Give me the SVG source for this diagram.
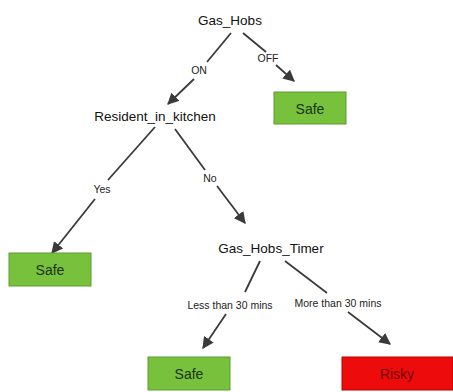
<svg xmlns="http://www.w3.org/2000/svg" width="453" height="392" viewBox="0 0 453 392">
  <defs>
    <marker id="arrow" viewBox="0 0 10 10" refX="9" refY="5" markerWidth="6.5" markerHeight="6.5" orient="auto" markerUnits="strokeWidth">
      <path d="M0,0 L10,5 L0,10 Z" fill="#3a3a3a"/>
    </marker>
  </defs>
  <style>
    .node-label { font-family: "Liberation Sans", Arial, sans-serif; font-size: 13.5px; fill: #111; text-anchor: middle; }
    .edge-label { font-family: "Liberation Sans", Arial, sans-serif; font-size: 10.5px; fill: #222; text-anchor: middle; }
    .edge { stroke: #3a3a3a; stroke-width: 1.8; fill: none; }
    .safe rect { fill: #78c13c; stroke: #5e9b2e; stroke-width: 1; }
    .safe text { font-family: "Liberation Sans", Arial, sans-serif; font-size: 14px; fill: #1a3310; text-anchor: middle; }
    .risky rect { fill: #ee0b0b; stroke: #b30000; stroke-width: 1; }
    .risky text { font-family: "Liberation Sans", Arial, sans-serif; font-size: 14px; fill: #6e0a0a; text-anchor: middle; }
  </style>
  <rect width="453" height="392" fill="#ffffff"/>

  <!-- connectors -->
  <g id="connectors">
    <line class="edge" x1="231" y1="33" x2="207" y2="62"/>
    <line class="edge" x1="194" y1="79" x2="168" y2="104" marker-end="url(#arrow)"/>
    <text class="edge-label" x="199" y="74">ON</text>

    <line class="edge" x1="243" y1="33" x2="266" y2="52"/>
    <line class="edge" x1="276" y1="65" x2="294" y2="81" marker-end="url(#arrow)"/>
    <text class="edge-label" x="268" y="62">OFF</text>

    <line class="edge" x1="155" y1="127" x2="108" y2="180"/>
    <line class="edge" x1="95" y1="199" x2="52" y2="253" marker-end="url(#arrow)"/>
    <text class="edge-label" x="102" y="193">Yes</text>

    <line class="edge" x1="175" y1="129" x2="205" y2="170"/>
    <line class="edge" x1="217" y1="186" x2="245" y2="223" marker-end="url(#arrow)"/>
    <text class="edge-label" x="210" y="182">No</text>

    <line class="edge" x1="260" y1="261" x2="245" y2="292"/>
    <line class="edge" x1="226" y1="314" x2="203" y2="348" marker-end="url(#arrow)"/>
    <text class="edge-label" x="230" y="309">Less than 30 mins</text>

    <line class="edge" x1="285" y1="261" x2="327" y2="293"/>
    <line class="edge" x1="348" y1="312" x2="390" y2="344" marker-end="url(#arrow)"/>
    <text class="edge-label" x="338" y="307">More than 30 mins</text>
  </g>

  <!-- decision nodes -->
  <g id="gas-hobs">
    <text class="node-label" x="230" y="25">Gas_Hobs</text>
  </g>
  <g id="resident-in-kitchen">
    <text class="node-label" x="155" y="121">Resident_in_kitchen</text>
  </g>
  <g id="gas-hobs-timer">
    <text class="node-label" x="271" y="253">Gas_Hobs_Timer</text>
  </g>

  <!-- outcome nodes -->
  <g id="safe-off" class="safe">
    <rect x="274" y="92" width="72" height="32"/>
    <text x="310" y="114">Safe</text>
  </g>
  <g id="safe-resident" class="safe">
    <rect x="9" y="253" width="82" height="33"/>
    <text x="50" y="275">Safe</text>
  </g>
  <g id="safe-timer" class="safe">
    <rect x="148" y="357" width="82" height="33"/>
    <text x="189" y="379">Safe</text>
  </g>
  <g id="risky-timer" class="risky">
    <rect x="342" y="357" width="111" height="33"/>
    <text x="397" y="379">Risky</text>
  </g>
</svg>
